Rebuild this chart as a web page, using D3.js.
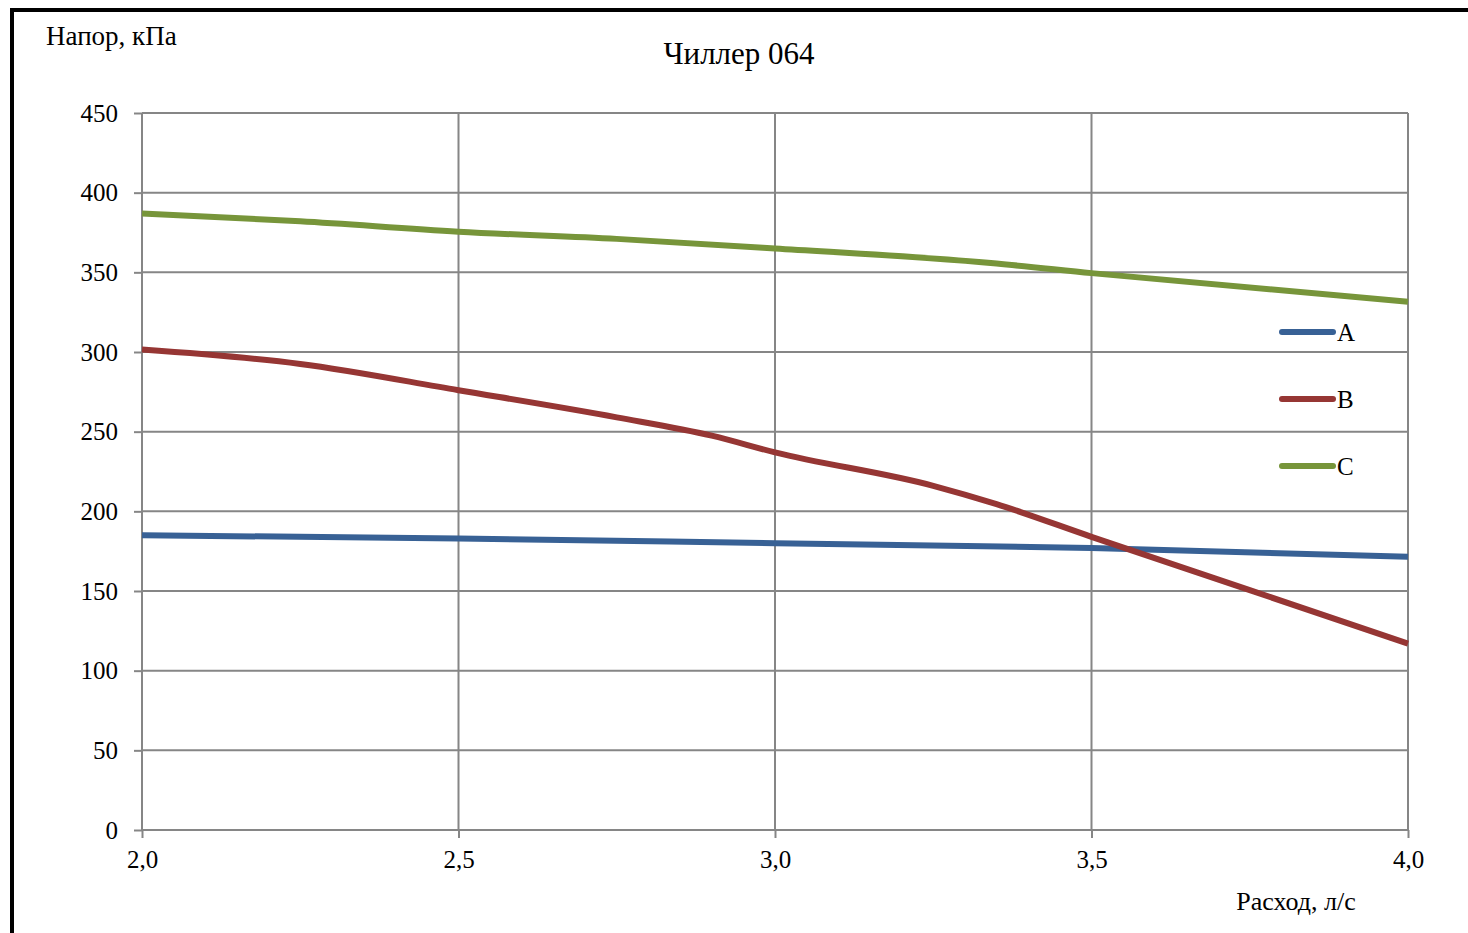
<!DOCTYPE html>
<html>
<head>
<meta charset="utf-8">
<script src="https://cdn.jsdelivr.net/npm/d3@7"></script>
<style>
html,body{margin:0;padding:0;background:#fff;}
svg{display:block;}
text{font-family:"Liberation Serif","Times New Roman",serif;fill:#000;}
</style>
</head>
<body>
<script>
const title = "Чиллер 064";
const yTitle = "Напор, кПа";
const xTitle = "Расход, л/с";
const xTicks = [2.0, 2.5, 3.0, 3.5, 4.0];
const yTicks = [0, 50, 100, 150, 200, 250, 300, 350, 400, 450];
const seriesNames = ["A", "B", "C"];
const seriesColors = ["#386195", "#963634", "#77953A"];
const xA = [2.0, 2.5, 3.0, 3.5, 4.0];
const valuesA = [185, 183, 180, 177, 171.5];
const xB = [2.0, 2.25, 2.5, 2.75, 2.9, 3.0, 3.25, 3.35, 3.5, 3.75, 4.0];
const valuesB = [301.5, 292.5, 276, 259, 247.5, 237, 216, 204.5, 184, 150.5, 117];
const xC = [2.0, 2.25, 2.5, 2.75, 3.0, 3.35, 3.5, 4.0];
const valuesC = [387, 382, 375.5, 371, 365, 355.5, 349.5, 331.5];

(function () {
const W = 1468, H = 933;
const svg = d3.select("body").append("svg").attr("width", W).attr("height", H);

const pL = 142, pR = 1408, pT = 113, pB = 830;
const x = d3.scaleLinear().domain([2.0, 4.0]).range([pL, pR]);
const y = d3.scaleLinear().domain([0, 450]).range([pB, pT]);
const FONT = '"Liberation Serif","Times New Roman",serif';

// outer frame lines (top and left)
svg.append("rect").attr("x", 10).attr("y", 8).attr("width", W - 10).attr("height", 4).attr("fill", "#000");
svg.append("rect").attr("x", 10).attr("y", 8).attr("width", 4).attr("height", H - 8).attr("fill", "#000");

const gridColor = "#868686";
// horizontal gridlines + left ticks
const yAxis = d3.axisLeft(y).tickValues(yTicks).tickSize(8).tickPadding(16).tickFormat(d3.format("d"));
const gy = svg.append("g").attr("transform", `translate(${pL},0)`).call(yAxis);
gy.attr("font-family", FONT).attr("font-size", 25);
gy.select(".domain").remove();
gy.selectAll(".tick line").attr("stroke", gridColor).attr("stroke-width", 2);
gy.selectAll(".tick text").attr("fill", "#000");
svg.append("g").selectAll("line").data(yTicks).join("line")
  .attr("x1", pL).attr("x2", pR).attr("y1", d => y(d)).attr("y2", d => y(d))
  .attr("stroke", gridColor).attr("stroke-width", 2);

// vertical gridlines + bottom ticks
const xAxis = d3.axisBottom(x).tickValues(xTicks).tickSize(8).tickPadding(12).tickFormat(d => d.toFixed(1).replace(".", ","));
const gx = svg.append("g").attr("transform", `translate(0,${pB})`).call(xAxis);
gx.attr("font-family", FONT).attr("font-size", 25);
gx.select(".domain").remove();
gx.selectAll(".tick line").attr("stroke", gridColor).attr("stroke-width", 2);
gx.selectAll(".tick text").attr("fill", "#000");
svg.append("g").selectAll("line").data(xTicks).join("line")
  .attr("x1", d => x(d)).attr("x2", d => x(d)).attr("y1", pT).attr("y2", pB)
  .attr("stroke", gridColor).attr("stroke-width", 2);

// series
const line = d3.line().x(d => x(d[0])).y(d => y(d[1])).curve(d3.curveMonotoneX);
const series = [
  d3.zip(xA, valuesA),
  d3.zip(xB, valuesB),
  d3.zip(xC, valuesC)
];
series.forEach((s, i) => {
  svg.append("path").attr("d", line(s)).attr("fill", "none")
    .attr("stroke", seriesColors[i]).attr("stroke-width", 6).attr("stroke-linejoin", "round");
});

// legend
const legY = [332, 399, 466];
seriesNames.forEach((n, i) => {
  svg.append("line").attr("x1", 1282).attr("x2", 1333).attr("y1", legY[i]).attr("y2", legY[i])
    .attr("stroke", seriesColors[i]).attr("stroke-width", 6).attr("stroke-linecap", "round");
  svg.append("text").attr("x", 1337).attr("y", legY[i] + 9).style("font-size", "25px").text(n);
});

// titles
svg.append("text").attr("x", 739).attr("y", 64).attr("text-anchor", "middle").style("font-size", "31px").text(title);
svg.append("text").attr("x", 46).attr("y", 45).style("font-size", "27px").text(yTitle);
svg.append("text").attr("x", 1296).attr("y", 910).attr("text-anchor", "middle").style("font-size", "26px").text(xTitle);
})();
</script>
</body>
</html>
